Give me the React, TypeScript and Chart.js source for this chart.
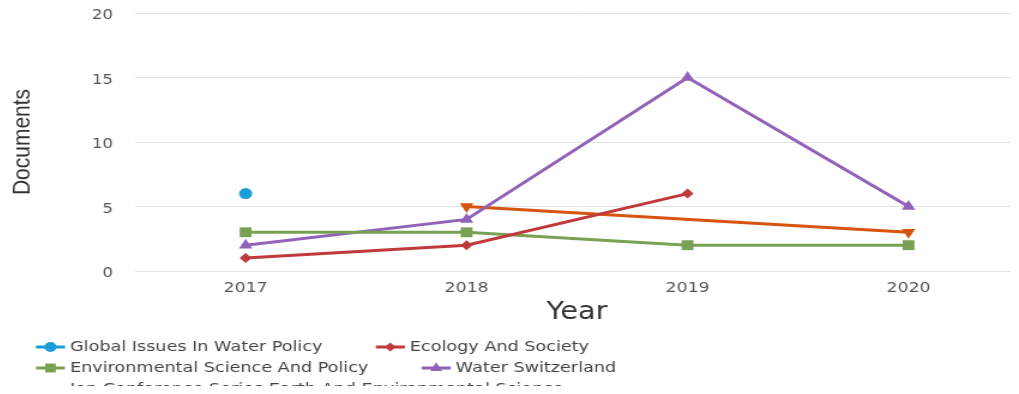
import React, { useEffect, useRef } from 'react';
import { Chart, registerables } from 'chart.js';

Chart.register(...registerables);

const years = ['2017', '2018', '2019', '2020'];
const globalIssuesInWaterPolicy = [6, null, null, null];
const ecologyAndSociety = [1, 2, 6, null];
const environmentalScienceAndPolicy = [3, 3, 2, 2];
const waterSwitzerland = [2, 4, 15, 5];
const iopConferenceSeries = [null, 5, null, 3];
const seriesNames = [
  'Global Issues In Water Policy',
  'Ecology And Society',
  'Environmental Science And Policy',
  'Water Switzerland',
  'Iop Conference Series Earth And Environmental Science',
];
const yTickValues = [0, 5, 10, 15, 20];
const yAxisTitle = 'Documents';
const xAxisTitle = 'Year';

const W = 843;
const H = 386;
const SX = 1011 / 843;

function drawMarker(ctx: CanvasRenderingContext2D, style: string, x: number, y: number, r: number, rot: number) {
  ctx.beginPath();
  if (style === 'circle') {
    ctx.arc(x, y, r, 0, Math.PI * 2);
  } else if (style === 'rect') {
    const s = r * Math.SQRT1_2;
    ctx.rect(x - s, y - s, 2 * s, 2 * s);
  } else if (style === 'rectRot') {
    ctx.moveTo(x - r, y);
    ctx.lineTo(x, y - r);
    ctx.lineTo(x + r, y);
    ctx.lineTo(x, y + r);
    ctx.closePath();
  } else if (style === 'triangle') {
    const a = (rot * Math.PI) / 180;
    for (let i = 0; i < 3; i++) {
      const ang = a - Math.PI / 2 + (i * 2 * Math.PI) / 3;
      const px = x + Math.cos(ang) * r;
      const py = y + Math.sin(ang) * r;
      if (i === 0) ctx.moveTo(px, py);
      else ctx.lineTo(px, py);
    }
    ctx.closePath();
  }
  ctx.fill();
}

const legendPlugin = {
  id: 'flowLegend',
  afterDraw(chart: any) {
    const ctx: CanvasRenderingContext2D = chart.ctx;
    ctx.save();
    ctx.font = '14.7px "DejaVu Sans"';
    ctx.textBaseline = 'middle';
    ctx.textAlign = 'left';
    const x0 = 23.3;
    const lineLen = 24.2;
    const textOff = 28.4;
    const gap = 44.5;
    const maxRight = 650;
    const rowTop = 339;
    const rowStep = 21;
    let x = x0;
    let row = 0;
    chart.data.datasets.forEach((ds: any) => {
      const label = ds.label as string;
      const tw = ctx.measureText(label).width;
      const w = textOff + tw;
      if (x > x0 && x + w > maxRight) {
        row++;
        x = x0;
      }
      const y = rowTop + row * rowStep;
      ctx.strokeStyle = ds.borderColor;
      ctx.lineWidth = 3;
      ctx.beginPath();
      ctx.moveTo(x, y);
      ctx.lineTo(x + lineLen, y);
      ctx.stroke();
      ctx.fillStyle = ds.borderColor;
      drawMarker(ctx, ds.pointStyle, x + lineLen / 2, y, ds.pointRadius * 0.9, ds.pointRotation || 0);
      ctx.fillStyle = '#444';
      ctx.fillText(label, x + textOff, y);
      x += w + gap;
    });
    ctx.restore();
  },
};

export default function App() {
  const ref = useRef<HTMLCanvasElement | null>(null);

  useEffect(() => {
    if (!ref.current) return;
    const colors = ['#1b9dd9', '#c0393b', '#78a153', '#9163b8', '#d6540e'];
    const values = [
      globalIssuesInWaterPolicy,
      ecologyAndSociety,
      environmentalScienceAndPolicy,
      waterSwitzerland,
      iopConferenceSeries,
    ];
    const styles = ['circle', 'rectRot', 'rect', 'triangle', 'triangle'];
    const radii = [5.5, 5, 7, 6.5, 6.5];
    const rotations = [0, 0, 0, 0, 180];
    const datasets = values.map((data, i) => ({
      label: seriesNames[i],
      data,
      borderColor: colors[i],
      backgroundColor: colors[i],
      pointBackgroundColor: colors[i],
      pointBorderColor: colors[i],
      pointBorderWidth: 0,
      pointStyle: styles[i],
      pointRadius: radii[i],
      pointRotation: rotations[i],
      borderWidth: 3,
      tension: 0,
      spanGaps: i === 4,
      fill: false,
    }));

    const chart = new Chart(ref.current, {
      type: 'line',
      data: { labels: years, datasets },
      plugins: [legendPlugin],
      options: {
        responsive: false,
        animation: false,
        devicePixelRatio: 1,
        layout: {
          autoPadding: false,
          padding: { top: 5, left: 0, right: 0, bottom: 69 },
        },
        plugins: {
          legend: { display: false },
          tooltip: { enabled: false },
        },
        scales: {
          x: {
            type: 'category',
            offset: true,
            grid: { display: false, drawTicks: false },
            border: { display: false },
            ticks: {
              padding: 9,
              color: '#555',
              font: { family: '"DejaVu Sans"', size: 14.4 },
              maxRotation: 0,
            },
            title: {
              display: true,
              text: xAxisTitle,
              color: '#333',
              padding: 0,
              font: { family: '"DejaVu Sans"', size: 24, lineHeight: 1 },
            },
            afterFit: (scale: any) => {
              scale.height = 54;
              scale.paddingLeft = 0;
              scale.paddingRight = 0;
            },
          },
          y: {
            min: 0,
            max: 20,
            grid: { color: '#e2e2e2', lineWidth: 1, drawTicks: false },
            border: { display: false },
            ticks: {
              padding: 18.5,
              labelOffset: 2.5,
              color: '#555',
              font: { family: '"DejaVu Sans"', size: 13.8 },
            },
            afterBuildTicks: (scale: any) => {
              scale.ticks = yTickValues.map((v) => ({ value: v }));
            },
            title: {
              display: true,
              text: yAxisTitle,
              color: '#333',
              padding: 0,
              font: { family: '"Liberation Sans", Arial, sans-serif', size: 21, lineHeight: 1.15 },
            },
            afterFit: (scale: any) => {
              scale.width = 106;
              scale.paddingTop = 0;
              scale.paddingBottom = 0;
            },
          },
        },
      },
    } as any);

    return () => chart.destroy();
  }, []);

  return (
    <div
      style={{
        width: W,
        height: H,
        transform: `scaleX(${SX})`,
        transformOrigin: '0 0',
        marginBottom: -8,
      }}
    >
      <canvas ref={ref} width={W} height={H} style={{ display: 'block' }} />
    </div>
  );
}
